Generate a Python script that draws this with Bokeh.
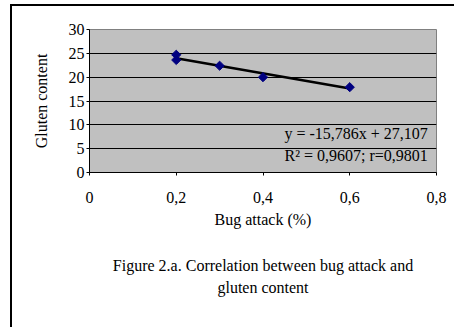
import math
from bokeh.plotting import figure
from bokeh.models import FixedTicker, Label, Range1d, LinearAxis
from bokeh.embed import file_html
from bokeh.resources import INLINE

# ---- data ----
bug_attack = [0.2, 0.2, 0.3, 0.4, 0.6]
gluten = [24.7, 23.6, 22.4, 20.0, 17.9]
trend_slope = -15.786
trend_intercept = 27.107
trend_x = [min(bug_attack), max(bug_attack)]
trend_y = [trend_slope * v + trend_intercept for v in trend_x]
x_ticks = [0, 0.2, 0.4, 0.6, 0.8]
x_tick_labels = ["0", "0,2", "0,4", "0,6", "0,8"]
y_ticks = [0, 5, 10, 15, 20, 25, 30]
eq_line1 = "y = -15,786x + 27,107"
eq_line2 = "R² = 0,9607; r=0,9801"
caption1 = "Figure 2.a. Correlation between bug attack and"
caption2 = "gluten content"

FONT = "Liberation Serif"
FS = "16px"

p = figure(width=444, height=323, output_backend="svg", toolbar_location=None,
           x_range=Range1d(0, 0.8), y_range=Range1d(0, 30),
           min_border_left=77, min_border_right=20, min_border_top=23,
           min_border_bottom=157)
p.styles = {"border-left": "2px solid black", "border-top": "2px solid black",
            "margin-left": "10px", "margin-top": "4px"}

p.background_fill_color = "#C0C0C0"
p.border_fill_color = "white"
p.outline_line_color = "#808080"
p.outline_line_width = 1

p.xgrid.grid_line_color = None
p.ygrid.grid_line_color = "black"
p.ygrid.grid_line_width = 1
p.ygrid.ticker = FixedTicker(ticks=y_ticks)

p.xaxis.ticker = FixedTicker(ticks=x_ticks)
p.xaxis.major_label_overrides = {t: l for t, l in zip(x_ticks, x_tick_labels)}
p.yaxis.ticker = FixedTicker(ticks=y_ticks)

for ax in (p.xaxis, p.yaxis):
    ax.axis_line_color = "black"
    ax.axis_line_width = 1
    ax.major_tick_line_color = "black"
    ax.major_tick_out = 3
    ax.major_tick_in = 0
    ax.minor_tick_line_color = None
    ax.major_label_text_font = FONT
    ax.major_label_text_font_size = FS
    ax.major_label_text_color = "black"
    ax.axis_label_text_font = FONT
    ax.axis_label_text_font_size = FS
    ax.axis_label_text_font_style = "normal"
    ax.axis_label_text_color = "black"

p.xaxis.axis_label = "Bug attack (%)"
p.yaxis.axis_label = "Gluten content"
p.xaxis.major_label_standoff = 16
p.xaxis.axis_label_standoff = 5
p.yaxis.major_label_standoff = 2
p.yaxis.axis_label_standoff = 16

p.line(trend_x, trend_y, line_color="black", line_width=2.5)
p.scatter(bug_attack, gluten, marker="square", size=6.5, angle=math.pi / 4,
          fill_color="#000080", line_color="#000080")

for txt, yy in ((eq_line1, 8.2), (eq_line2, 3.6)):
    p.add_layout(Label(x=0.78, y=yy, text=txt, text_align="right",
                       text_baseline="middle", text_font=FONT,
                       text_font_size=FS, text_color="black"))

# caption lines as label-only axes below the x axis
for txt, so in ((caption1, 26), (caption2, 2)):
    cap = LinearAxis(ticker=FixedTicker(ticks=[]), axis_label=txt,
                     axis_line_color=None, major_tick_line_color=None,
                     minor_tick_line_color=None, major_tick_out=0,
                     major_tick_in=0, minor_tick_out=0, major_label_standoff=0,
                     axis_label_standoff=so, axis_label_text_font=FONT,
                     axis_label_text_font_size=FS,
                     axis_label_text_font_style="normal",
                     axis_label_text_color="black")
    p.add_layout(cap, "below")

open("out.html", "w").write(file_html(p, INLINE))
